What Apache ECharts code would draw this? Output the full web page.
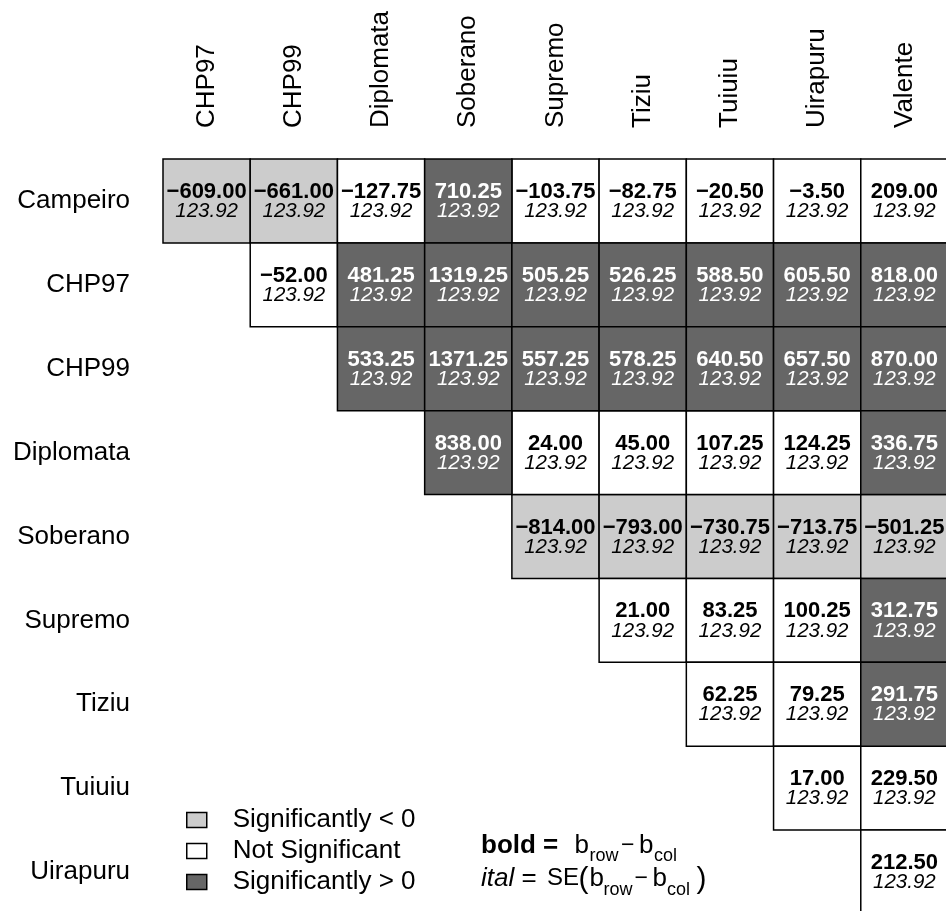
<!DOCTYPE html>
<html>
<head>
<meta charset="utf-8">
<script src="https://cdn.jsdelivr.net/npm/echarts@6/dist/echarts.min.js"></script>
<style>
  html, body { margin: 0; padding: 0; background: #ffffff; overflow: hidden; }
  /* the matrix runs slightly past the right and bottom edges of the page */
  #chart { width: 960px; height: 930px; }
</style>
</head>
<body>
<div id="chart"></div>
<script>
// Cultivars compared: rows against columns (upper triangle only)
const rowNames = ['Campeiro', 'CHP97', 'CHP99', 'Diplomata', 'Soberano', 'Supremo', 'Tiziu', 'Tuiuiu', 'Uirapuru'];
const colNames = ['CHP97', 'CHP99', 'Diplomata', 'Soberano', 'Supremo', 'Tiziu', 'Tuiuiu', 'Uirapuru', 'Valente'];

// b_row - b_col ; row i starts at column i
const diffRows = [
  [-609.00, -661.00, -127.75, 710.25, -103.75, -82.75, -20.50, -3.50, 209.00],
  [-52.00, 481.25, 1319.25, 505.25, 526.25, 588.50, 605.50, 818.00],
  [533.25, 1371.25, 557.25, 578.25, 640.50, 657.50, 870.00],
  [838.00, 24.00, 45.00, 107.25, 124.25, 336.75],
  [-814.00, -793.00, -730.75, -713.75, -501.25],
  [21.00, 83.25, 100.25, 312.75],
  [62.25, 79.25, 291.75],
  [17.00, 229.50],
  [212.50]
];

// SE(b_row - b_col)
const seRows = [
  [123.92, 123.92, 123.92, 123.92, 123.92, 123.92, 123.92, 123.92, 123.92],
  [123.92, 123.92, 123.92, 123.92, 123.92, 123.92, 123.92, 123.92],
  [123.92, 123.92, 123.92, 123.92, 123.92, 123.92, 123.92],
  [123.92, 123.92, 123.92, 123.92, 123.92, 123.92],
  [123.92, 123.92, 123.92, 123.92, 123.92],
  [123.92, 123.92, 123.92, 123.92],
  [123.92, 123.92, 123.92],
  [123.92, 123.92],
  [123.92]
];

// significance: -1 = significantly < 0, 0 = not significant, 1 = significantly > 0
const sigRows = [
  [-1, -1, 0, 1, 0, 0, 0, 0, 0],
  [0, 1, 1, 1, 1, 1, 1, 1],
  [1, 1, 1, 1, 1, 1, 1],
  [1, 0, 0, 0, 0, 1],
  [-1, -1, -1, -1, -1],
  [0, 0, 0, 1],
  [0, 0, 1],
  [0, 0],
  [0]
];

const sigClasses = ['Significantly < 0', 'Not Significant', 'Significantly > 0'];
const classFill = ['#cccccc', '#ffffff', '#666666'];
const classText = ['#000000', '#000000', '#ffffff'];

const FONT = '"Liberation Sans", Arial, Helvetica, sans-serif';

function fmt(v) {
  const s = Math.abs(v).toFixed(2);
  return v < 0 ? '\u2212' + s : s;
}

// group cells by significance class
const classData = [[], [], []];
diffRows.forEach((row, i) => {
  row.forEach((d, k) => {
    const j = i + k;
    classData[sigRows[i][k] + 1].push([j, i, d, seRows[i][k]]);
  });
});

function renderCell(params, api) {
  const cls = params.seriesIndex;
  const c = api.coord([api.value(0), api.value(1)]);
  const s = api.size([1, 1]);
  return {
    type: 'group',
    children: [
      {
        type: 'rect',
        shape: { x: c[0] - s[0] / 2, y: c[1] - s[1] / 2, width: s[0], height: s[1] },
        style: { fill: classFill[cls], stroke: '#000000', lineWidth: 1.5 }
      },
      {
        type: 'text',
        x: c[0], y: c[1] - 9,
        style: {
          text: fmt(api.value(2)), fill: classText[cls],
          font: 'bold 22px ' + FONT, align: 'center', verticalAlign: 'middle'
        }
      },
      {
        type: 'text',
        x: c[0], y: c[1] + 10.5,
        style: {
          text: api.value(3).toFixed(2), fill: classText[cls],
          font: 'italic 20.5px ' + FONT, align: 'center', verticalAlign: 'middle'
        }
      }
    ]
  };
}

// formula note pieces
function piece(text, x, y, font) {
  return { type: 'text', x: x, y: y, style: { text: text, font: font, fill: '#000000', align: 'left', verticalAlign: 'middle' } };
}
const MAIN = '26px ' + FONT;
const SUB = '18px ' + FONT;
const MINUS = '23px ' + FONT;
const PAREN = '30px ' + FONT;
const y1 = 845.5, y2 = 878.7, subDy = 11;
const formula = [
  piece('bold =', 481, y1, 'bold 26px ' + FONT),
  piece('b', 574.5, y1, MAIN),
  piece('row', 589.5, y1 + subDy, SUB),
  piece('\u2212', 621, y1, MINUS),
  piece('b', 639, y1, MAIN),
  piece('col', 654, y1 + subDy, SUB),
  piece('ital', 481, y2, 'italic 26px ' + FONT),
  piece('=', 521.5, y2, MAIN),
  piece('SE', 547, y2, '24px ' + FONT),
  piece('(', 578.5, y2 + 1, PAREN),
  piece('b', 589.5, y2, MAIN),
  piece('row', 603.5, y2 + subDy, SUB),
  piece('\u2212', 634.5, y2, MINUS),
  piece('b', 652.5, y2, MAIN),
  piece('col', 667, y2 + subDy, SUB),
  piece(')', 696.5, y2 + 1, PAREN)
];

const chart = echarts.init(document.getElementById('chart'), null, { renderer: 'canvas' });
chart.setOption({
  animation: false,
  backgroundColor: '#ffffff',
  grid: { left: 163, top: 159, width: 785, height: 755, containLabel: false },
  xAxis: {
    type: 'category', data: colNames, position: 'top',
    axisLine: { show: false }, axisTick: { show: false }, splitLine: { show: false },
    axisLabel: { interval: 0, rotate: -90, margin: 31, fontSize: 26, color: '#000000', fontFamily: FONT }
  },
  yAxis: {
    type: 'category', data: rowNames, inverse: true,
    axisLine: { show: false }, axisTick: { show: false }, splitLine: { show: false },
    axisLabel: { interval: 0, margin: 33, fontSize: 26, color: '#000000', fontFamily: FONT }
  },
  legend: {
    orient: 'vertical', left: 186, top: 805, padding: 0,
    itemWidth: 20, itemHeight: 15, itemGap: 1, icon: 'rect', selectedMode: false,
    itemStyle: { borderColor: '#000000', borderWidth: 1.5 },
    textStyle: { fontSize: 26, color: '#000000', fontFamily: FONT, lineHeight: 30, padding: [0, 0, 0, 21] },
    data: sigClasses
  },
  graphic: formula,
  series: sigClasses.map((name, k) => ({
    name: name,
    type: 'custom',
    renderItem: renderCell,
    itemStyle: { color: classFill[k] },
    encode: { x: 0, y: 1 },
    data: classData[k],
    clip: false
  }))
});
</script>
</body>
</html>
